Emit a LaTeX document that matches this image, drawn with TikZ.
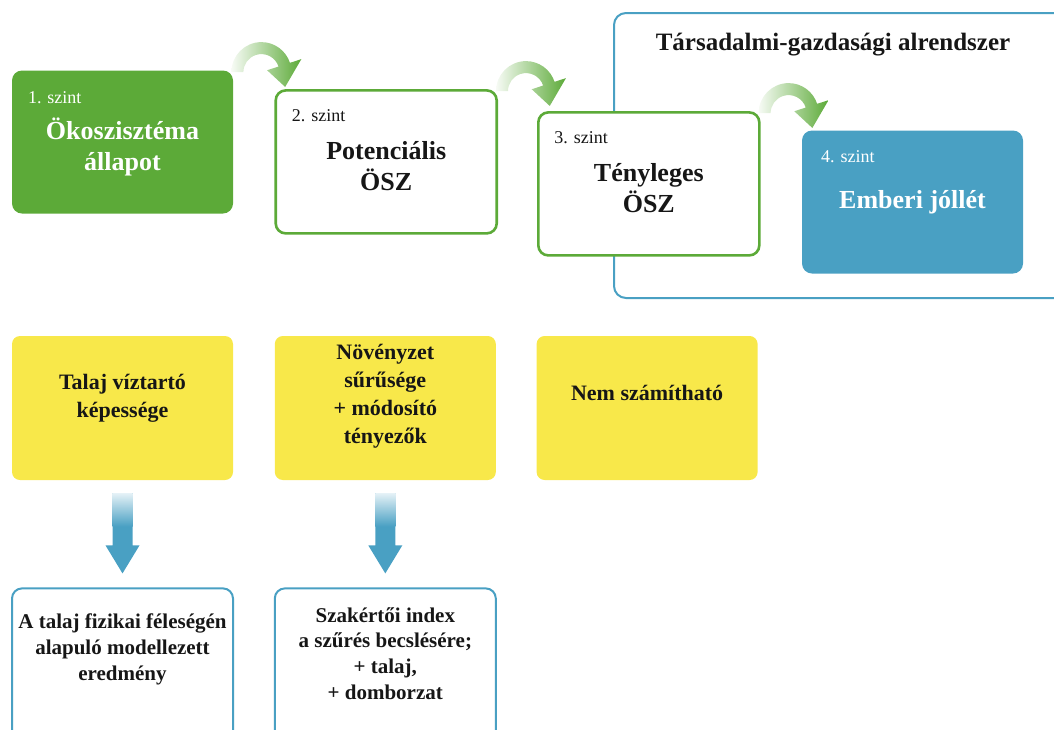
\documentclass[tikz,border=0pt]{standalone}
\usepackage{fontspec}
\setmainfont{Liberation Serif}
\usepackage{tikz}
\usetikzlibrary{positioning,calc}
\usepackage{xcolor}

\definecolor{ecogreen}{RGB}{92,170,56}
\definecolor{wellblue}{RGB}{73,160,195}
\definecolor{indyellow}{RGB}{248,232,74}
\definecolor{txtblack}{RGB}{22,22,22}

% curved green arrow from one level box to the next
\newcommand\levelarrow[1]{%
  \begin{scope}[shift={($(#1.north east)+(28,-2)$)}]
    \shade[left color=ecogreen!5, right color=ecogreen]
      (180:30) arc[start angle=180, end angle=18, radius=30]
      -- (18:42) -- (-32:28) -- (18:6) -- (18:18)
      arc[start angle=18, end angle=180, radius=18] -- cycle;
  \end{scope}}

% blue arrow from an indicator to its result
\newcommand\dataarrow[2]{%
  \fill[wellblue] ($(#1.south)+(-10,-13)$) -- ($(#2.north)+(-10,42)$)
    -- ($(#2.north)+(-17,42)$) -- ($(#2.north)+(0,14)$)
    -- ($(#2.north)+(17,42)$) -- ($(#2.north)+(10,42)$)
    -- ($(#1.south)+(10,-13)$) -- cycle;
  \shade[top color=wellblue!15, bottom color=wellblue]
    ($(#1.south)+(-10,-13)$) rectangle ($(#1.south)+(10,-46)$);}

\begin{document}
\begin{tikzpicture}[
  x=0.5pt, y=0.5pt,
  every node/.style={text=txtblack},
  levelbox/.style={rounded corners=5pt, minimum width=110.5pt, minimum height=71.5pt},
  greenbox/.style={levelbox, fill=ecogreen},
  whitebox/.style={levelbox, draw=ecogreen, line width=1.3pt, fill=white},
  bluebox/.style={levelbox, fill=wellblue},
  headtext/.style={align=center, inner sep=0pt,
              font=\bfseries\fontsize{13}{15.5}\selectfont},
  levellabel/.style={inner sep=0pt, font=\fontsize{9}{11}\selectfont},
  sysbox/.style={draw=wellblue, line width=1pt, rounded corners=6pt,
              minimum width=235pt, minimum height=142.5pt},
  systitle/.style={inner sep=0pt, font=\bfseries\fontsize{12.5}{15}\selectfont},
  indbox/.style={fill=indyellow, rounded corners=4pt,
              minimum width=110.5pt, minimum height=72pt},
  indtext/.style={align=center, inner sep=0pt,
              font=\bfseries\fontsize{11}{14}\selectfont},
  outbox/.style={draw=wellblue, line width=1pt, rounded corners=5pt,
              minimum width=110.5pt, minimum height=100pt},
  outtext/.style={align=center, inner sep=0pt,
              font=\bfseries\fontsize{10.5}{12.8}\selectfont},
]
\useasboundingbox (0,0) rectangle (1054,-729);
\clip (0,0) rectangle (1054,-729);

\node[sysbox, anchor=north west] (sys) at (613,-12) {};
\node[systitle] (systxt) at (833,-45) {Társadalmi-gazdasági alrendszer};

\node[greenbox] (lvl1) at (122.5,-142) {};
\node[whitebox, below right=9.5pt and 20.5pt of lvl1.north east] (lvl2) {};
\node[whitebox, below right=11pt and 19.5pt of lvl2.north east] (lvl3) {};
\node[bluebox, below right=9.5pt and 20.5pt of lvl3.north east] (lvl4) {};

\node[headtext, text=white] (head1) at ([yshift=-2.5pt]lvl1.center) {Ökoszisztéma\\állapot};
\node[headtext] (head2) at ([yshift=-2pt]lvl2.center) {Potenciális\\ÖSZ};
\node[headtext] (head3) at ([yshift=-2pt]lvl3.center) {Tényleges\\ÖSZ};
\node[headtext, text=white] (head4) at (lvl4.center) {Emberi jóllét};

\node[levellabel, text=white, below right=10.5pt and 8pt of lvl1.north west] (lab1) {1. szint};
\node[levellabel, below right=10pt and 8.5pt of lvl2.north west] (lab2) {2. szint};
\node[levellabel, below right=10pt and 8.5pt of lvl3.north west] (lab3) {3. szint};
\node[levellabel, text=white, below right=10pt and 9.5pt of lvl4.north west] (lab4) {4. szint};

\levelarrow{lvl1}
\levelarrow{lvl2}
\levelarrow{lvl3}

\node[indbox] (ind1) at (122.5,-408) {};
\node[indbox, right=20.5pt of ind1] (ind2) {};
\node[indbox, right=20pt of ind2] (ind3) {};
\node[indtext] (indt1) at ([yshift=5pt]ind1.center) {Talaj víztartó\\képessége};
\node[indtext] (indt2) at ([yshift=6pt]ind2.center) {Növényzet\\sűrűsége\\+ módosító\\tényezők};
\node[indtext] (indt3) at ([yshift=7.5pt]ind3.center) {Nem számítható};

\node[outbox, below=53.5pt of ind1] (out1) {};
\node[outbox, below=53.5pt of ind2] (out2) {};
\node[outtext] (outt1) at ([yshift=-31pt]out1.north) {A talaj fizikai féleségén\\alapuló modellezett\\eredmény};
\node[outtext] (outt2) at ([yshift=-33pt]out2.north) {Szakértői index\\a szűrés becslésére;\\+ talaj,\\+ domborzat};

\dataarrow{ind1}{out1}
\dataarrow{ind2}{out2}
\end{tikzpicture}
\end{document}
